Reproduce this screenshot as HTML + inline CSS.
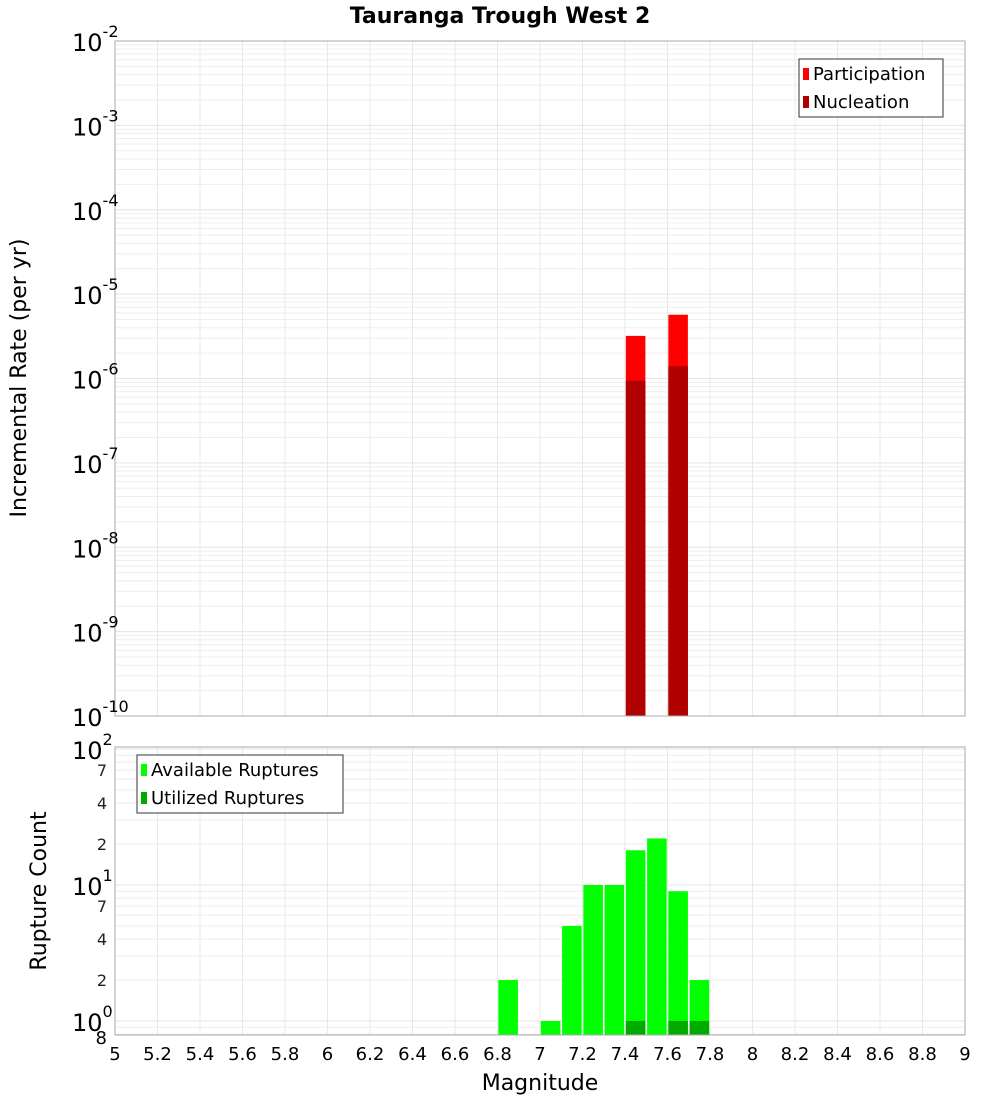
<!DOCTYPE html>
<html><head><meta charset="utf-8"><style>
body{margin:0;background:#fff;width:1000px;height:1100px;overflow:hidden}
svg{font-family:"DejaVu Sans","Liberation Sans",sans-serif}
</style></head><body>
<svg id="c" width="1000" height="1100" xmlns="http://www.w3.org/2000/svg">
<text x="500" y="23" text-anchor="middle" font-size="22" font-weight="bold">Tauranga Trough West 2</text>
<text transform="translate(26,378) rotate(-90)" text-anchor="middle" font-size="22">Incremental Rate (per yr)</text>
<text transform="translate(46,891) rotate(-90)" text-anchor="middle" font-size="22">Rupture Count</text>
<text x="540" y="1090" text-anchor="middle" font-size="22">Magnitude</text>
</svg>
<script>
const xTicks=[5,5.2,5.4,5.6,5.8,6,6.2,6.4,6.6,6.8,7,7.2,7.4,7.6,7.8,8,8.2,8.4,8.6,8.8,9];
const rateMags=[7.45,7.65];
const participation=[3.2e-6,5.7e-6];
const nucleation=[9.4e-7,1.4e-6];
const countMags=[6.85,7.05,7.15,7.25,7.35,7.45,7.55,7.65,7.75];
const available=[2,1,5,10,10,18,22,9,2];
const utilMags=[7.45,7.65,7.75];
const utilized=[1,1,1];
const rateDecades=[-2,-3,-4,-5,-6,-7,-8,-9,-10];
const countDecades=[2,1,0];

const NS="http://www.w3.org/2000/svg";
const svg=document.getElementById('c');
const L=115,R=965;
const X=m=>L+(m-5)/4*(R-L);
const T1=41,B1=716;
const Y1=v=>T1+(-2-Math.log10(v))*(B1-T1)/8;
const T2=747,B2=1035;
const cDec=136,c1=1021;
const Y2=v=>c1-Math.log10(v)*cDec;
function el(tag,a,p){const e=document.createElementNS(NS,tag);for(const k in a)e.setAttribute(k,a[k]);(p||svg).appendChild(e);return e;}

function grid(top,bot,yf,decMin,decMax){
  const g=el('g',{});
  
  
  for(let d=decMin;d<=decMax;d++)for(let k=1;k<10;k++){const v=k*Math.pow(10,d);const y=yf(v);if(y<top-0.5||y>bot+0.5)continue;
    el('line',{x1:L,x2:R,y1:y,y2:y,stroke:k==1?'#e4e4e4':'#eeeeee','stroke-width':1},g);}
  xTicks.forEach(t=>{const x=X(t);el('line',{x1:x,x2:x,y1:top,y2:bot,stroke:'#e8e8e8','stroke-width':1},g);});
}
grid(T1,B1,Y1,-10,-2);
grid(T2,B2,Y2,-1,2);

const bw=(R-L)/40*0.92;
rateMags.forEach((m,i)=>{
  const r=el('rect',{x:X(m)-bw/2,y:Y1(participation[i]),width:bw,height:B1-Y1(participation[i]),fill:'#ff0000'});
  
  
  const n=el('rect',{x:X(m)-bw/2,y:Y1(nucleation[i]),width:bw,height:B1-Y1(nucleation[i]),fill:'#b00000'});
  
  
});
countMags.forEach((m,i)=>{
  const r=el('rect',{x:X(m)-bw/2,y:Y2(available[i]),width:bw,height:B2-Y2(available[i]),fill:'#00ff00'});
  
  
});
utilMags.forEach((m,i)=>{
  const r=el('rect',{x:X(m)-bw/2,y:Y2(utilized[i]),width:bw,height:B2-Y2(utilized[i]),fill:'#00aa00'});
  
  
});
el('rect',{x:L,y:T1,width:R-L,height:B1-T1,fill:'none',stroke:'#aaa'});
el('rect',{x:L,y:T2,width:R-L,height:B2-T2,fill:'none',stroke:'#aaa'});

rateDecades.forEach(d=>{
  const y=Y1(Math.pow(10,d));
  const t=el('text',{x:72,y:y+10,'font-size':24});
  
  
  t.textContent='10';
  const s=el('tspan',{dy:-14,'font-size':16},t);s.textContent=String(d);
});
countDecades.forEach(d=>{
  const y=Y2(Math.pow(10,d));
  const t=el('text',{x:72,y:y+10,'font-size':24});
  
  
  t.textContent='10';
  const s=el('tspan',{dy:-14,'font-size':16},t);s.textContent=String(d);
});
[[7,10],[4,10],[2,10],[7,1],[4,1],[2,1]].forEach(([k,m])=>{
  const t=el('text',{x:107,y:Y2(k*m)+6,'font-size':16,'text-anchor':'end',fill:'#222'});
  
  
  t.textContent=String(k);
});
{const t=el('text',{x:107,y:B2+9,'font-size':18,'text-anchor':'end'});


t.textContent='8';}
xTicks.forEach(v=>{
  const t=el('text',{x:X(v),y:1060,'font-size':18,'text-anchor':'middle'});
  
  
  t.textContent=String(v);
});
function legend(x,y,w,items,name){
  const g=el('g',{});
  
  
  el('rect',{x:x,y:y,width:w,height:items.length*28+2,fill:'#fff',stroke:'#333'},g);
  items.forEach(([lab,col],i)=>{
    el('rect',{x:x+4,y:y+9+i*28,width:6,height:12,fill:col},g);
    const t=el('text',{x:x+14,y:y+21+i*28,'font-size':18},g);t.textContent=lab;
  });
}
legend(799,59,144,[['Participation','#ff0000'],['Nucleation','#b00000']],'top-legend');
legend(137,755,206,[['Available Ruptures','#00ff00'],['Utilized Ruptures','#00aa00']],'bottom-legend');
</script>
</body></html>
